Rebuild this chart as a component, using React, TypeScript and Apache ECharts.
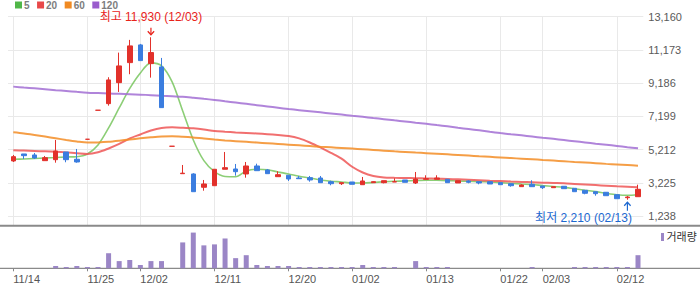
import React, { useEffect, useRef } from 'react';
import * as echarts from 'echarts';

const dates = ['11/14','11/15','11/18','11/19','11/20','11/21','11/22','11/25','11/26','11/27','11/28','11/29','12/02','12/03','12/04','12/05','12/06','12/09','12/10','12/11','12/12','12/13','12/16','12/17','12/18','12/19','12/20','12/23','12/24','12/26','12/27','12/30','01/02','01/03','01/06','01/07','01/08','01/09','01/10','01/13','01/14','01/15','01/16','01/17','01/20','01/21','01/22','01/23','01/24','01/31','02/03','02/04','02/05','02/06','02/07','02/10','02/11','02/12','02/13','02/14'];

const opens = [4530,4949,4889,4548,4607,5068,4632,5829,7564,7959,9216,10413,11472,10353,10156,5410,3770,3752,2956,3051,4033,4051,3752,4230,3991,3590,3674,3512,3530,3512,3291,3171,3273,3111,3231,3231,3271,3393,3213,3434,3434,3434,3213,3333,3291,3291,3231,3171,2994,3135,3034,2932,3016,2896,2776,2692,2657,2513,2333,2393];
const closes = [4787,4847,4709,4727,5128,4607,4470,5829,7564,9378,10216,11413,10533,11014,7720,5410,3800,2692,3153,4033,4129,3889,4230,3949,3770,3710,3452,3470,3393,3231,3171,3231,3135,3333,3291,3351,3291,3255,3452,3470,3512,3231,3351,3255,3213,3153,3111,3051,3093,2992,2932,2992,2872,2692,2597,2573,2453,2273,2375,2836];
const lows = [4470,4650,4650,4548,4428,4452,4428,5829,7564,7839,8659,9719,10533,9515,7720,5410,3770,2692,2752,3051,4033,3650,3530,3949,3770,3590,3333,3470,3291,3231,3075,3093,3135,3111,3231,3191,3271,3255,3153,3434,3434,3231,3213,3195,3135,3153,3111,2992,2980,2992,2854,2932,2872,2692,2537,2453,2453,2273,2210,2393];
const highs = [4889,4949,5009,4829,5787,5068,5248,5829,7564,9539,11011,11772,11532,11930,10694,5410,4290,3794,3393,4033,5068,4350,4470,4368,4051,3913,3674,3632,3632,3632,3351,3231,3273,3572,3315,3351,3494,3393,3871,3674,3674,3434,3351,3375,3291,3291,3231,3171,3135,3375,3034,2992,3016,2896,2776,2692,2657,2513,2435,3111];

const ma5 = [4631,4649,4679,4709,4739,4769,4787,4949,5487,6505,7702,8869,9797,10395,10216,9258,7522,5787,4548,3889,3602,3590,3931,4033,4003,3871,3752,3614,3512,3393,3321,3273,3213,3213,3243,3285,3315,3333,3363,3381,3375,3357,3333,3321,3297,3273,3237,3195,3153,3123,3057,3004,2950,2872,2782,2698,2597,2513,2477,2513];
const ma20 = [5170,5152,5128,5104,5080,5044,4997,4949,5050,5278,5547,5876,6116,6355,6505,6541,6517,6481,6415,6325,6277,6236,6206,6176,6134,6086,6026,5882,5637,5338,5009,4667,4183,3841,3632,3542,3524,3512,3500,3488,3470,3452,3429,3405,3375,3345,3327,3303,3279,3255,3231,3213,3195,3159,3123,3087,3051,3016,2986,2956];
const ma60 = [6247,6176,6086,5990,5888,5787,5697,5631,5637,5673,5739,5817,5882,5942,5990,6002,5978,5936,5876,5811,5757,5715,5673,5631,5589,5547,5505,5463,5422,5380,5344,5308,5272,5230,5188,5146,5104,5068,5032,4997,4961,4925,4889,4853,4811,4775,4739,4703,4667,4631,4590,4554,4512,4470,4434,4398,4356,4320,4284,4248];
const ma120 = [8977,8923,8875,8821,8767,8719,8665,8618,8594,8570,8546,8522,8498,8468,8432,8402,8372,8312,8246,8181,8103,8025,7947,7869,7792,7714,7636,7570,7504,7438,7373,7307,7235,7169,7097,7031,6960,6894,6822,6756,6678,6601,6517,6439,6361,6277,6200,6128,6062,5990,5918,5852,5781,5709,5637,5565,5499,5428,5356,5290];

const volumes = [0,0,0,0,70000,40000,70000,40000,40000,460000,220000,250000,100000,220000,220000,0,790000,1090000,700000,730000,910000,310000,400000,100000,70000,70000,70000,40000,40000,40000,40000,40000,40000,100000,40000,40000,40000,0,220000,40000,40000,40000,0,0,0,0,0,0,0,40000,0,0,0,40000,40000,40000,40000,40000,40000,400000];
const volumeAxisMax = 1300000;

const tickDates = ['11/14','11/25','12/02','12/11','12/20','01/02','01/13','01/22','02/03','02/12'];
const priceTicks = [1238, 3225, 5212, 7199, 9186, 11173, 13160];

const maNames = ['5', '20', '60', '120'];
const maColors = ['#78c55e', '#ee5656', '#f38d26', '#a26fd4'];
const legendColors = ['#50b648', '#e84848', '#f08a22', '#9a5ccc'];

const FONT = 'Arial, "Liberation Sans", "Noto Sans CJK KR", sans-serif';
const W = 700, H = 289;
const GL = 8, GR = 56.7;
const PRICE_TOP = 16.7, LABEL_BOTTOM = 216, PRICE_BOTTOM = 225.7, VOL_BOTTOM = 268.3;

const fmt = (n: number) => n.toLocaleString('en-US');

export default function App() {
  const ref = useRef<HTMLDivElement>(null);
  useEffect(() => {
    if (!ref.current) return;
    const chart = echarts.init(ref.current, null, { renderer: 'svg' });
    const pMin = priceTicks[0];
    const pMax = priceTicks[priceTicks.length - 1];
    const step = priceTicks[1] - priceTicks[0];
    const minA = pMax - ((PRICE_BOTTOM - PRICE_TOP) / (LABEL_BOTTOM - PRICE_TOP)) * (pMax - pMin);
    const tickSet = new Set(tickDates.map((d) => dates.indexOf(d)));
    const isTick = (i: number) => tickSet.has(i);
    const candle = dates.map((_, i) => [opens[i], closes[i], lows[i], highs[i]]);
    const up = '#e2312b', down = '#3b7ddf';

    const option: any = {
      animation: false,
      textStyle: { fontFamily: FONT },
      legend: [
        {
          data: [{ name: '5', textStyle: { width: 8.5 } }, { name: '20' }, { name: '60' }, { name: '120' }],
          left: 15, top: 0, padding: 0, itemWidth: 7, itemHeight: 7, itemGap: 7.5, icon: 'rect',
          selectedMode: false,
          textStyle: { fontSize: 10, fontWeight: 'bold', color: '#7d7d7d', padding: [0, 0, 0, -3], fontFamily: FONT },
        },
        {
          data: ['거래량'], left: 661, top: 231.5, padding: 0, itemWidth: 3, itemHeight: 8, icon: 'rect',
          selectedMode: false,
          textStyle: { fontSize: 11, color: '#333', padding: [0, 0, 0, -2.5], fontFamily: FONT },
        },
      ],
      grid: [
        { left: GL, right: GR, top: PRICE_TOP, bottom: H - PRICE_BOTTOM },
        { left: GL, right: GR, top: PRICE_TOP, bottom: H - LABEL_BOTTOM },
        { left: GL, right: GR, top: PRICE_BOTTOM, bottom: H - VOL_BOTTOM },
      ],
      xAxis: [
        {
          type: 'category', gridIndex: 0, data: dates, boundaryGap: true,
          axisLine: { show: false }, axisTick: { show: false }, axisLabel: { show: false },
          splitLine: { show: true, interval: (i: number) => isTick(i), alignWithLabel: true, lineStyle: { color: '#e9e9e9', width: 1 } },
        },
        { type: 'category', gridIndex: 1, data: dates, show: false },
        {
          type: 'category', gridIndex: 2, data: dates, boundaryGap: true,
          axisLine: { show: false },
          axisTick: { show: true, interval: (i: number) => isTick(i), alignWithLabel: true, length: 3, lineStyle: { color: '#888' } },
          axisLabel: { interval: (i: number) => isTick(i), align: 'left', margin: 5, color: '#555', fontSize: 11, fontFamily: FONT },
          splitLine: { show: false },
        },
      ],
      yAxis: [
        { type: 'value', gridIndex: 0, min: minA, max: pMax, show: false, splitLine: { show: false } },
        {
          type: 'value', gridIndex: 1, position: 'right', min: pMin, max: pMax, interval: step,
          axisLine: { show: false }, axisTick: { show: false },
          axisLabel: { color: '#5a5a5a', fontSize: 11, margin: 5, formatter: (v: number) => fmt(v), fontFamily: FONT },
          splitLine: { show: true, lineStyle: { color: '#e9e9e9', width: 1 } },
        },
        { type: 'value', gridIndex: 2, min: 0, max: volumeAxisMax, show: false, splitLine: { show: false } },
      ],
      series: [
        {
          type: 'candlestick', name: '주가', xAxisIndex: 0, yAxisIndex: 0, data: candle, barWidth: 5,
          itemStyle: { color: up, color0: down, borderColor: up, borderColor0: down, borderColorDoji: up, borderWidth: 1 },
          z: 3,
        },
        ...[ma5, ma20, ma60, ma120].map((d, k) => ({
          type: 'line', name: maNames[k], xAxisIndex: 0, yAxisIndex: 0, data: d, symbol: 'none',
          smooth: 0.3, color: legendColors[k],
          lineStyle: { color: maColors[k], width: k === 0 ? 1.6 : 2, opacity: 0.85 },
          z: 2,
        })),
        {
          type: 'bar', name: '거래량', xAxisIndex: 2, yAxisIndex: 2, data: volumes, barWidth: 5,
          itemStyle: { color: '#9b86c6' },
        },
      ],
    };
    chart.setOption(option);

    let hiIdx = 0, loIdx = 0;
    highs.forEach((h, i) => { if (h > highs[hiIdx]) hiIdx = i; });
    lows.forEach((l, i) => { if (l < lows[loIdx]) loIdx = i; });
    const [hx, hy] = chart.convertToPixel({ seriesIndex: 0 }, [hiIdx, highs[hiIdx]]) as number[];
    const [lx, ly] = chart.convertToPixel({ seriesIndex: 0 }, [loIdx, lows[loIdx]]) as number[];
    const hiColor = '#e8231b', loColor = '#1c68d0';

    chart.setOption({
      graphic: [
        { type: 'line', shape: { x1: 0, y1: PRICE_BOTTOM, x2: W, y2: PRICE_BOTTOM }, style: { stroke: '#8a8a8a', lineWidth: 2 }, silent: true },
        { type: 'line', shape: { x1: 0, y1: VOL_BOTTOM, x2: W, y2: VOL_BOTTOM }, style: { stroke: '#8a8a8a', lineWidth: 1.3 }, silent: true },
        {
          type: 'text', x: hx, y: hy - 20,
          style: { text: `최고 ${fmt(highs[hiIdx])} (${dates[hiIdx]})`, fill: hiColor, font: `12px ${FONT}`, align: 'center', verticalAlign: 'middle', textAlign: 'center', textVerticalAlign: 'middle' },
        },
        { type: 'polyline', shape: { points: [[hx, hy - 9.5], [hx, hy - 2.5]] }, style: { stroke: hiColor, lineWidth: 1.2, fill: null } },
        { type: 'polyline', shape: { points: [[hx - 3.2, hy - 6], [hx, hy - 2.5], [hx + 3.2, hy - 6]] }, style: { stroke: hiColor, lineWidth: 1.2, fill: null } },
        {
          type: 'text', x: lx + 4.5, y: ly + 18.6,
          style: { text: `최저 ${fmt(lows[loIdx])} (${dates[loIdx]})`, fill: loColor, font: `12px ${FONT}`, align: 'right', verticalAlign: 'middle', textAlign: 'right', textVerticalAlign: 'middle' },
        },
        { type: 'polyline', shape: { points: [[lx, ly + 11], [lx, ly + 2.5]] }, style: { stroke: loColor, lineWidth: 1.2, fill: null } },
        { type: 'polyline', shape: { points: [[lx - 3.2, ly + 6], [lx, ly + 2.5], [lx + 3.2, ly + 6]] }, style: { stroke: loColor, lineWidth: 1.2, fill: null } },
      ],
    });

    return () => chart.dispose();
  }, []);
  return <div ref={ref} style={{ position: 'absolute', left: 0, top: 0, width: W, height: H, background: '#fff' }} />;
}
